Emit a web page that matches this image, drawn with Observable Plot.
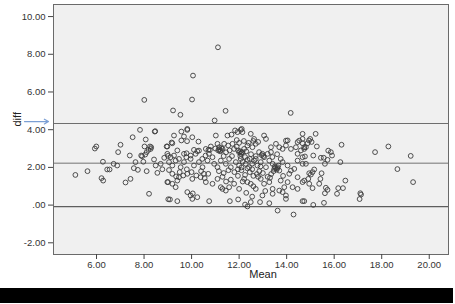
<!DOCTYPE html>
<html><head><meta charset="utf-8">
<script src="https://cdn.jsdelivr.net/npm/d3@7"></script>
<script src="https://cdn.jsdelivr.net/npm/@observablehq/plot@0.6"></script>
<style>
body{margin:0;background:#fff;font-family:"Liberation Sans",Arial,sans-serif}
#chart{height:288px;overflow:hidden}
#bar{width:453px;height:15px;background:#000;}
</style></head><body><div id="chart"></div><div id="bar"></div>
<script>
const mean = [
  5.11,5.62,5.93,5.99,6.27,6.45,6.55,6.21,6.28,6.72,
  6.87,7.01,6.91,7.52,7.83,7.40,7.22,7.43,7.64,7.57,
  7.74,8.07,8.02,8.11,8.21,7.97,7.88,8.01,8.47,8.25,
  8.28,8.19,8.11,8.05,7.92,8.95,9.01,8.85,8.42,8.49,
  8.77,8.56,9.01,9.02,8.45,8.30,8.70,
  9.22,9.53,10.02,10.06,11.11,11.43,10.97,14.17,9.82,12.11,
  9.26,9.57,9.82,9.68,10.03,9.57,9.81,9.16,10.29,8.98,
  9.19,9.40,9.68,9.79,10.10,10.17,10.24,10.60,10.81,10.31,
  10.71,10.77,8.98,9.12,9.26,9.47,9.78,9.96,10.45,10.59,
  10.73,9.05,9.19,9.33,9.54,9.68,9.96,10.10,10.31,10.46,
  10.67,10.88,10.95,9.05,9.19,9.35,9.50,9.65,9.80,10.00,
  10.20,10.40,10.55,10.70,9.47,8.98,9.19,9.40,9.33,9.82,
  10.03,10.38,10.52,10.60,10.88,9.82,9.96,10.03,10.24,9.09,
  9.40,10.74,10.05,
  11.02,11.51,11.68,11.83,12.07,12.14,12.49,12.63,13.05,13.13,
  11.93,11.09,11.16,11.23,11.30,11.37,11.54,11.72,11.79,11.96,
  12.07,12.14,12.21,12.35,12.56,12.70,12.84,12.98,13.05,13.20,
  11.16,11.20,11.12,11.25,12.05,12.10,12.00,12.95,13.02,11.00,
  11.45,11.60,11.90,12.30,12.50,12.70,11.35,11.70,11.09,11.23,
  11.44,11.58,11.65,11.86,12.00,12.07,12.28,12.42,12.63,12.77,
  12.91,13.13,11.15,11.35,11.55,11.80,12.10,12.25,12.45,12.60,
  12.85,11.30,11.95,12.75,11.09,11.23,11.30,11.44,11.58,11.79,
  12.00,12.21,12.35,12.49,12.70,12.91,11.61,11.96,12.25,12.35,
  12.49,12.88,12.98,11.45,11.65,
  11.90,12.00,12.20,12.40,12.60,12.80,12.05,12.25,12.45,12.15,
  12.35,12.55,12.70,12.90,12.10,11.95,12.35,12.55,12.80,13.00,
  12.15,12.60,13.10,12.30,12.55,13.40,13.60,13.75,13.30,13.75,
  13.34,13.55,13.69,13.83,13.97,14.18,14.39,14.60,14.04,14.46,
  14.67,13.97,13.34,14.67,14.53,14.74,14.46,14.67,13.27,13.41,
  13.48,13.62,13.69,13.83,14.04,14.18,14.32,14.46,14.67,13.52,
  13.58,13.50,13.60,13.45,13.65,13.27,13.41,13.69,13.90,14.04,
  14.25,14.46,14.67,14.74,14.46,14.11,13.05,13.20,13.85,13.35,
  13.62,13.83,13.97,14.29,14.67,14.74,13.97,13.41,13.27,
  15.22,14.99,14.94,14.88,15.05,14.67,15.27,16.31,17.72,18.28,
  19.22,14.74,14.77,15.75,15.86,15.91,15.12,15.44,15.56,15.72,
  15.61,16.26,14.81,18.66,15.16,15.09,14.95,15.02,15.47,14.91,
  15.42,16.47,14.95,15.37,15.09,15.65,15.72,16.17,16.37,15.61,
  16.12,17.10,17.13,17.07,19.32,15.12,15.57,14.81
];
const diff = [
  1.60,1.80,3.00,3.11,2.30,1.89,1.89,1.43,1.30,2.19,
  2.10,3.20,2.81,3.60,3.99,2.63,1.20,1.39,2.28,1.96,
  1.87,3.48,3.11,1.80,0.60,2.30,2.63,5.58,3.92,3.11,
  2.98,2.93,2.81,2.68,2.59,3.11,2.61,2.51,2.42,2.10,
  1.90,1.71,1.22,0.31,3.90,3.07,2.19,
  5.02,4.79,5.60,6.87,8.37,5.00,4.49,4.89,4.04,4.04,
  3.69,3.90,3.99,3.64,3.60,3.43,3.39,3.32,3.37,3.11,
  3.28,2.90,2.72,2.75,2.93,2.72,2.86,2.98,3.11,2.89,
  2.93,2.93,2.72,2.54,2.63,2.45,2.54,2.63,2.45,2.63,
  2.72,2.28,2.10,2.36,2.01,2.28,2.45,2.10,2.28,2.01,
  2.36,2.54,2.19,1.86,1.66,1.52,1.75,1.57,1.90,1.75,
  1.57,1.80,1.43,1.66,1.48,1.22,1.13,1.30,0.95,1.66,
  1.39,1.48,1.66,1.22,1.13,0.69,0.51,0.33,0.42,0.30,
  0.21,0.21,0.62,
  3.69,3.69,3.74,3.96,3.99,3.87,3.78,3.51,3.69,3.51,
  3.87,3.25,3.07,2.90,2.98,3.25,3.16,3.25,2.98,2.90,
  2.72,2.81,2.98,3.16,3.07,3.25,2.81,2.72,2.54,2.72,
  2.95,2.85,2.90,3.02,2.85,2.78,2.80,2.65,2.60,3.00,
  2.80,2.90,3.10,2.85,2.70,2.60,2.60,2.60,2.01,2.36,
  2.19,2.45,2.01,2.28,2.10,2.45,2.19,2.01,2.36,2.10,
  2.28,2.01,1.80,1.70,1.85,1.75,1.85,1.60,1.75,1.55,
  1.80,1.50,1.55,1.65,1.39,0.95,0.86,0.77,0.95,1.13,
  0.86,1.39,1.22,1.13,0.86,1.39,0.21,0.30,0.03,-0.07,
  0.16,0.16,0.51,1.25,1.35,
  3.45,3.30,3.40,3.30,3.40,3.35,2.60,2.55,2.45,2.30,
  2.40,2.20,2.45,2.05,2.00,1.90,1.95,1.90,1.50,1.70,
  1.25,1.00,0.75,0.65,0.45,2.55,2.70,2.45,1.45,1.30,
  3.07,3.25,3.07,2.98,3.16,2.98,3.07,2.90,3.43,3.34,
  3.51,3.42,2.81,3.78,3.42,3.07,2.72,2.54,2.36,2.19,
  1.92,2.01,1.83,2.28,2.10,1.83,1.92,2.36,2.19,1.98,
  1.88,2.05,1.95,1.80,2.10,1.22,0.86,0.77,0.95,1.22,
  0.95,0.86,1.22,1.30,1.48,1.66,1.13,1.50,1.55,1.65,
  -0.29,0.69,0.51,-0.50,0.21,0.21,0.33,0.60,0.10,
  3.78,3.51,3.43,3.28,3.35,3.28,3.11,3.20,2.81,3.11,
  2.61,2.98,2.58,2.89,2.81,2.63,2.63,2.51,2.51,2.40,
  2.19,2.28,2.19,1.91,1.89,1.75,1.69,1.62,1.69,1.39,
  1.39,1.30,1.13,1.13,0.90,0.92,0.81,0.90,0.90,0.63,
  0.60,0.63,0.56,0.32,1.22,0.01,0.12,3.07
];
const referenceLines = [4.33, 2.22, -0.08];
const lineColors = ["#6e6e6e", "#9c9c9c", "#5e5e5e"];
const xTicks = [6, 8, 10, 12, 14, 16, 18, 20];
const yTicks = [-2, 0, 2, 4, 6, 8, 10];
const arrowAnn = [{x1: 2.97, x2: 3.98, y: 4.43}];

const fmt = v => v.toFixed(2).replace(/^(-?)0\./, "$1.");
const rows = mean.map((m, i) => ({mean: m, diff: diff[i]}));
const lines = referenceLines.map((v, i) => ({v, c: lineColors[i], w: i === 1 ? 1.6 : 1.1}));

const chart = Plot.plot({
  width: 455, height: 288,
  marginLeft: 53, marginRight: 7, marginTop: 4, marginBottom: 34,
  style: {fontFamily: "Liberation Sans, Arial, sans-serif", fontSize: "9.5px", color: "#333", background: "#fff", overflow: "visible"},
  x: {domain: [4.19, 20.81]},
  y: {domain: [-2.62, 10.64]},
  marks: [
    Plot.frame({fill: "#f0f0f0", stroke: "none"}),
    Plot.ruleY(lines, {y: "v", stroke: "c", strokeWidth: "w"}),
    Plot.dot(rows, {x: "mean", y: "diff", r: 2.4, stroke: "#3c3c3c", strokeWidth: 0.9, fill: "none"}),
    Plot.frame({stroke: "#6a6a6a", strokeWidth: 1}),
    Plot.axisX({ticks: xTicks, tickFormat: fmt, tickSize: 5, tickPadding: 2, label: null, stroke: "#444", fill: "#333"}),
    Plot.axisY({ticks: yTicks, tickFormat: fmt, tickSize: 5, tickPadding: 3, label: null, stroke: "#444", fill: "#333"}),
    Plot.text(["Mean"], {frameAnchor: "bottom", dx: 12, dy: 23, fontSize: 11, fill: "#222"}),
    Plot.text(["diff"], {frameAnchor: "left", dx: -36, dy: -3, rotate: -90, fontSize: 11, fill: "#222"}),
    Plot.arrow(arrowAnn, {x1: "x1", x2: "x2", y1: "y", y2: "y", stroke: "#7b9fd4", strokeWidth: 1.2, headLength: 6, clip: false})
  ]
});
document.getElementById("chart").appendChild(chart);
</script></body></html>
